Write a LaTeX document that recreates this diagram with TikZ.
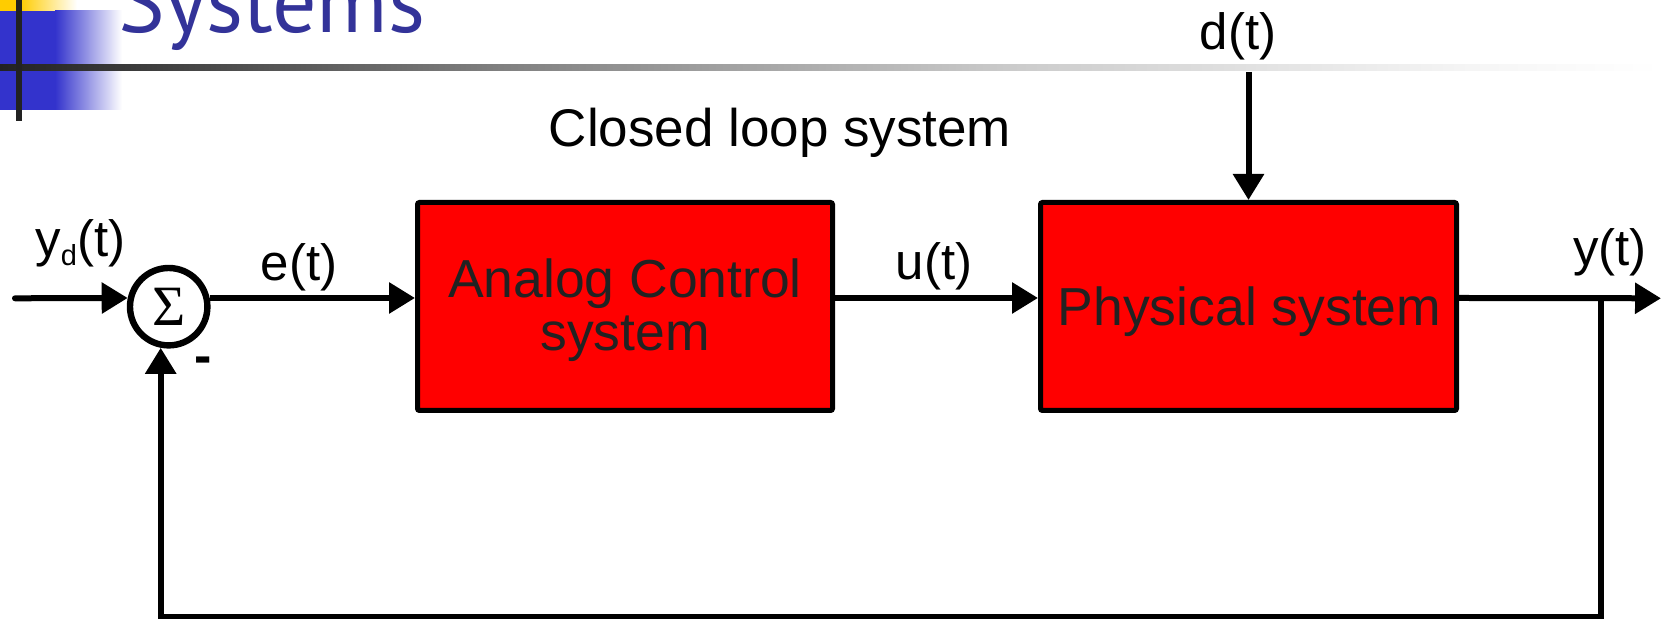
\documentclass[tikz,border=0pt]{standalone}
\usepackage{fontspec}
\setmainfont{Liberation Sans}
\newfontfamily\greekserif{Liberation Serif}
\newfontfamily\titlefont{PT Sans}
\usetikzlibrary{arrows.meta}

\definecolor{boxred}{RGB}{255,0,0}
\definecolor{inkgray}{RGB}{34,34,34}
\definecolor{titleblue}{RGB}{51,51,153}
\definecolor{pixblue}{RGB}{51,51,204}
\definecolor{pixgold}{RGB}{255,204,0}
\definecolor{ruleA}{RGB}{34,34,34}
\definecolor{ruleB}{RGB}{128,128,128}
\definecolor{ruleC}{RGB}{204,204,204}
\definecolor{ruleD}{RGB}{245,245,245}

\begin{document}
\begin{tikzpicture}[x=0.5pt,y=-0.5pt,
  wire/.style={line width=3pt,draw=black},
  arrowed/.style={-{Triangle[length=13pt,width=15pt]}},
  blockbox/.style={rectangle,draw=black,line width=2.5pt,fill=boxred,
    rounded corners=1pt,inner sep=0pt,minimum height=104pt},
  blocktext/.style={text=inkgray,align=center,inner sep=0pt,
    font=\fontsize{26.75pt}{26.5pt}\selectfont},
  lbl/.style={inner sep=0pt,anchor=base,font=\fontsize{25.5pt}{30pt}\selectfont},
  sumnode/.style={circle,draw=black,line width=3.2pt,fill=white,inner sep=0pt,
    minimum size=38.7pt,font=\greekserif\fontsize{28.5pt}{30pt}\selectfont}
]
\path[use as bounding box] (0,0) rectangle (1661,619);
\clip (0,0) rectangle (1661,619);

% slide header: coloured squares, title and fading rule
\fill[pixgold] (0,0) rectangle (20,11);
\shade[left color=pixgold,right color=white] (20,0) rectangle (77,11);
\fill[pixblue] (0,11) rectangle (55,110);
\shade[left color=pixblue,right color=white] (55,11) rectangle (122,110);
\shade[left color=ruleA,right color=ruleB] (0,65) rectangle (500,71);
\shade[left color=ruleB,right color=ruleC] (500,65) rectangle (1020,71);
\shade[left color=ruleC,right color=ruleD] (1020,65) rectangle (1470,71);
\shade[left color=ruleD,right color=white] (1470,65) rectangle (1661,71);
\fill[ruleA] (16,0) rectangle (22,121);
\node[anchor=base west,inner sep=0pt,text=titleblue,
  font=\titlefont\fontsize{44pt}{50pt}\selectfont] (title) at (118,33) {Systems};

% blocks
\node[sumnode] (sum) at (168.7,306.7) {Σ};
\node[blockbox,minimum width=207.5pt] (ac) at (625,306.5) {};
\node[blockbox,minimum width=208pt] (ps) at (1248.5,306.5) {};
\node[blocktext] (actext) at (625,310) {Analog Control\\system};
\node[blocktext] (pstext) at (1249.5,311.5) {Physical system};

% free ends of the connectors
\coordinate (src) at (15,298.3);
\coordinate (out) at (1661,298.3);
\coordinate (tap) at (1600.5,298.3);
\coordinate (fbl) at (1600.5,617);
\coordinate (din) at (1248.5,72);

% connectors
\draw[wire,arrowed,line cap=round] (src) -- (sum.168);
\draw[wire,arrowed] (sum.12) -- (sum.12 -| ac.west);
\draw[wire,arrowed] (sum.12 -| ac.east) -- (sum.12 -| ps.west);
\draw[wire,arrowed] (sum.12 -| ps.east) -- (out);
\draw[wire,arrowed] (tap) -- (fbl) -| (sum.259);
\draw[wire,arrowed] (din) -- (ps.north);

% labels
\node[lbl,font=\fontsize{26.5pt}{30pt}\selectfont] (cls) at (780,147) {Closed loop system};
\node[lbl,anchor=base west] (yd) at (35,257)
  {y\raisebox{-4.5pt}{\fontsize{14.5pt}{16pt}\selectfont d}(t)};
\node[lbl] (et) at (299,281) {e(t)};
\node[lbl] (ut) at (934,280) {u(t)};
\node[lbl] (dt) at (1238,50) {d(t)};
\node[lbl] (yt) at (1610,266) {y(t)};
\node[lbl,font=\bfseries\fontsize{26pt}{30pt}\selectfont] (neg) at (203,374) {-};
\end{tikzpicture}
\end{document}
